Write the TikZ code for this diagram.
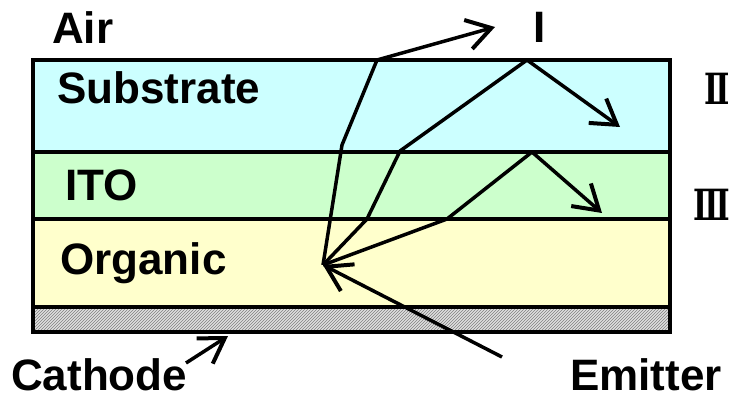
\documentclass[tikz,border=0pt]{standalone}
\usepackage{fontspec}
\setmainfont{Liberation Sans}
\newfontfamily\romfont{DejaVu Serif}
\usetikzlibrary{arrows.meta,patterns}
\definecolor{subc}{HTML}{CCFFFF}
\definecolor{itoc}{HTML}{CCFFCC}
\definecolor{orgc}{HTML}{FFFFCC}
\tikzset{
  lbl/.style={font=\bfseries\fontsize{44}{46}\selectfont, inner sep=0pt},
  rom/.style={font=\romfont\bfseries\fontsize{43}{45}\selectfont, inner sep=0pt, xscale=0.7},
  ray/.style={line width=3.5pt, line join=round},
  rayarrow/.style={ray, -{Straight Barb[length=24pt,width=30pt,line width=4pt]}},
  layer/.style={line width=4pt}
}
\begin{document}
\begin{tikzpicture}[x=1pt,y=-1pt]
\useasboundingbox (0,0) rectangle (731,398);
% layers
\fill[subc] (33,60) rectangle (670,152);
\fill[itoc] (33,152) rectangle (670,219);
\fill[orgc] (33,219) rectangle (670,307);
\fill[gray!25] (33,307) rectangle (670,332);
\fill[pattern=north east lines, pattern color=gray] (33,307) rectangle (670,332);
\draw[layer] (33,60) rectangle (670,332);
\draw[layer] (33,152) -- (670,152);
\draw[layer] (33,219) -- (670,219);
\draw[layer] (33,307) -- (670,307);
% coordinates
\coordinate (E) at (323,265);
\coordinate (a1) at (342,145);
\coordinate (a2) at (377,60);
\coordinate (a3) at (495,27);
\coordinate (b1) at (367,219);
\coordinate (b2) at (400,151);
\coordinate (b3) at (527,60);
\coordinate (b4) at (620,127);
\coordinate (c1) at (447,219);
\coordinate (c2) at (532,152);
\coordinate (c3) at (602,213);
\coordinate (es) at (502,357);
\coordinate (cs) at (186,363);
\coordinate (ce) at (228,336);
% rays
\draw[rayarrow] (E) -- (a1) -- (a2) -- (a3);
\draw[rayarrow] (E) -- (b1) -- (b2) -- (b3) -- (b4);
\draw[rayarrow] (E) -- (c1) -- (c2) -- (c3);
\draw[rayarrow] (es) -- (E);
\draw[rayarrow] (cs) -- (ce);
% labels
\node[lbl, anchor=west] (air) at (52,28) {Air};
\node[lbl, anchor=west] (sub) at (57,88) {Substrate};
\node[lbl, anchor=west] (ito) at (65,185) {ITO};
\node[lbl, anchor=west] (org) at (60,263) {Organic};
\node[lbl, anchor=base west] (cat) at (11,390) {Cathode};
\node[lbl, anchor=base east] (emi) at (722,390) {Emitter};
\node[lbl] (one) at (540,27) {I};
\node[rom] (two) at (717,89) {Ⅱ};
\node[rom] (three) at (712,205) {Ⅲ};
\end{tikzpicture}
\end{document}
